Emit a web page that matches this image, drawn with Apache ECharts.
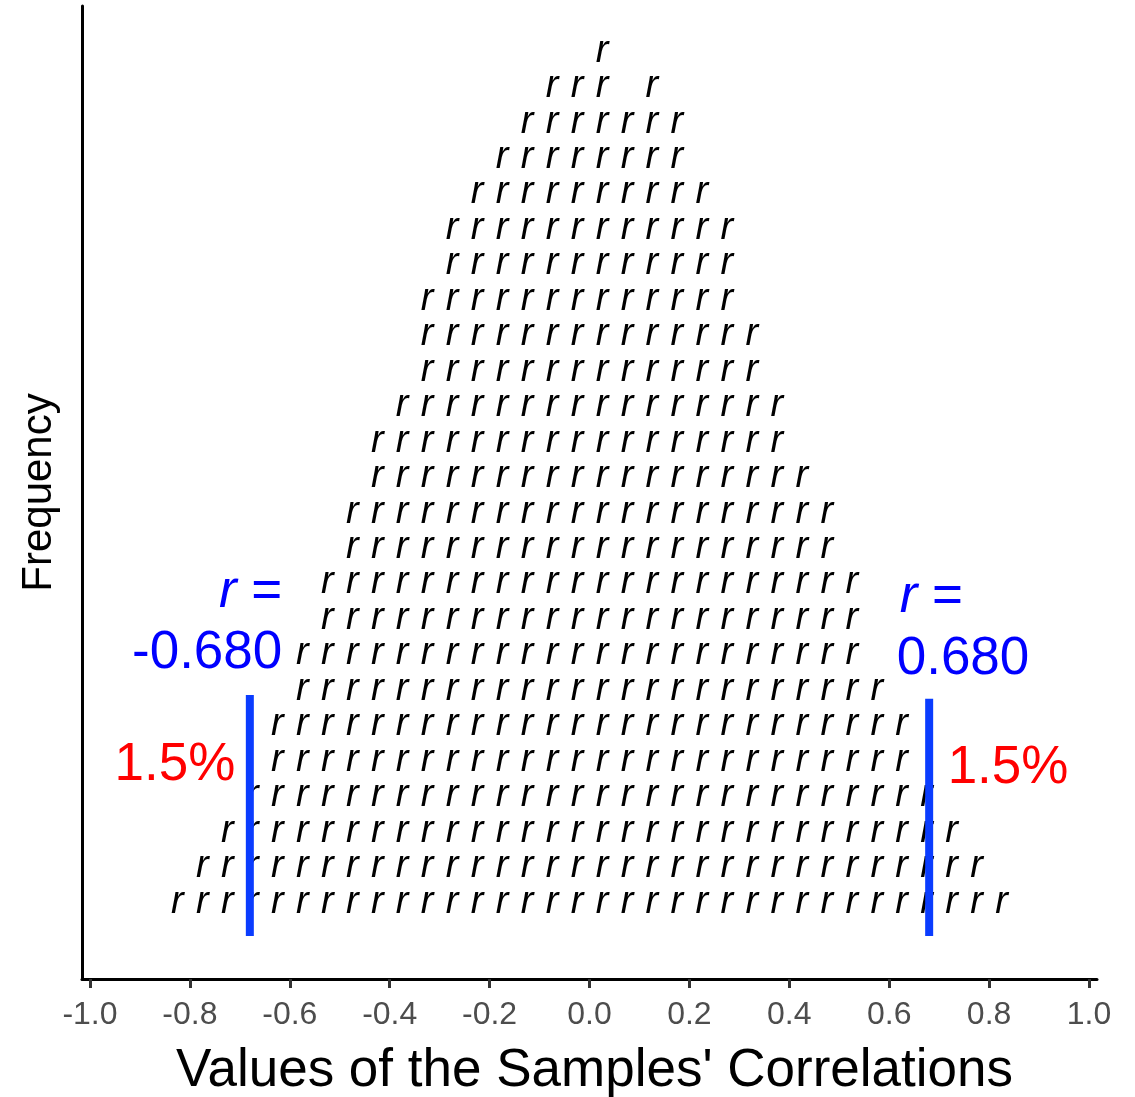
<!DOCTYPE html>
<html>
<head>
<meta charset="utf-8">
<script src="https://cdn.jsdelivr.net/npm/echarts@6/dist/echarts.min.js"></script>
<style>
  body { margin: 0; background: #fff; }
  #chart { width: 1135px; height: 1097px; }
</style>
</head>
<body>
<div id="chart"></div>
<script>
// sample correlations, binned (width 0.05), count of samples per bin
const binCenters = [-0.825, -0.775, -0.725, -0.675, -0.625, -0.575, -0.525, -0.475, -0.425, -0.375,
  -0.325, -0.275, -0.225, -0.175, -0.125, -0.075, -0.025, 0.025, 0.075, 0.125, 0.175, 0.225,
  0.275, 0.325, 0.375, 0.425, 0.475, 0.525, 0.575, 0.625, 0.675, 0.725, 0.775, 0.825];
const binCounts = [1, 2, 3, 4, 6, 8, 10, 12, 14, 15, 18, 20, 21, 22, 23, 24, 24, 25, 23, 24, 23, 21,
  20, 17, 15, 13, 12, 10, 7, 6, 4, 3, 2, 1];
const tickValues = [-1, -0.8, -0.6, -0.4, -0.2, 0, 0.2, 0.4, 0.6, 0.8, 1];
const cutoffs = [-0.68, 0.68];
const cutoffLabels = ['-0.680', '0.680'];
const tailShares = ['1.5%', '1.5%'];

const BLUE = '#0a3cff';
const TEXT_BLUE = '#0000ff';

// one "r" per sample, stacked in its bin
const stacked = [];
binCenters.forEach((c, i) => {
  for (let n = 1; n <= binCounts[i]; n++) stacked.push([c, n]);
});

const chart = echarts.init(document.getElementById('chart'));

const bigText = { fontFamily: 'Liberation Sans', fontSize: 53 };

const notes = [
  // left side
  { value: [-0.615, 9.74], label: { formatter: '{i|r} =', align: 'right', color: TEXT_BLUE, ...bigText,
      rich: { i: { fontStyle: 'italic', color: TEXT_BLUE, ...bigText } } } },
  { value: [-0.615, 8.02], label: { formatter: cutoffLabels[0], align: 'right', color: TEXT_BLUE, ...bigText } },
  { value: [-0.709, 4.86], label: { formatter: tailShares[0], align: 'right', color: '#ff0000', ...bigText } },
  // right side
  { value: [0.621, 9.6], label: { formatter: '{i|r} =', align: 'left', color: TEXT_BLUE, ...bigText,
      rich: { i: { fontStyle: 'italic', color: TEXT_BLUE, ...bigText } } } },
  { value: [0.615, 7.83], label: { formatter: cutoffLabels[1], align: 'left', color: TEXT_BLUE, ...bigText } },
  { value: [0.717, 4.78], label: { formatter: tailShares[1], align: 'left', color: '#ff0000', ...bigText } }
];

const options = {
  animation: false,
  grid: { left: 82, right: 38, top: 6, bottom: 118, outerBoundsMode: 'none', containLabel: false },
  xAxis: {
    type: 'value',
    min: -1.016,
    max: 1.016,
    name: "Values of the Samples' Correlations",
    nameLocation: 'middle',
    nameGap: 66,
    nameTextStyle: { fontFamily: 'Liberation Sans', fontSize: 53, color: '#000', padding: [0, 0, 0, 10] },
    axisLine: { show: true, onZero: false, lineStyle: { color: '#000', width: 3 } },
    axisTick: { show: true, customValues: tickValues, length: 9, lineStyle: { color: '#333', width: 3 } },
    axisLabel: {
      customValues: tickValues,
      margin: 20,
      fontFamily: 'Liberation Sans',
      fontSize: 32,
      color: '#4d4d4d',
      formatter: v => v.toFixed(1)
    },
    splitLine: { show: false }
  },
  yAxis: {
    type: 'value',
    min: -1.171,
    max: 26.27,
    name: 'Frequency',
    nameLocation: 'middle',
    nameRotate: 90,
    nameGap: 22,
    nameTextStyle: { fontFamily: 'Liberation Sans', fontSize: 42, color: '#000' },
    axisLine: { show: true, onZero: false, lineStyle: { color: '#000', width: 3 } },
    axisTick: { show: false },
    axisLabel: { show: false },
    splitLine: { show: false }
  },
  series: [
    {
      name: 'samples',
      type: 'scatter',
      silent: true,
      symbolSize: 0,
      itemStyle: { opacity: 1 },
      data: stacked,
      label: {
        show: true,
        position: 'inside',
        formatter: 'r',
        fontFamily: 'Liberation Sans',
        fontStyle: 'italic',
        fontSize: 38,
        color: '#000',
        opacity: 1
      }
    },
    {
      type: 'line',
      silent: true,
      symbol: 'none',
      z: 5,
      data: [[cutoffs[0], 0.04], [cutoffs[0], 6.84]],
      lineStyle: { color: BLUE, width: 8 }
    },
    {
      type: 'line',
      silent: true,
      symbol: 'none',
      z: 5,
      data: [[cutoffs[1], 0.04], [cutoffs[1], 6.73]],
      lineStyle: { color: BLUE, width: 8 }
    },
    {
      name: 'notes',
      type: 'scatter',
      silent: true,
      symbolSize: 0,
      itemStyle: { opacity: 1 },
      data: notes,
      label: { show: true, position: 'inside', opacity: 1 }
    }
  ]
};

chart.setOption(options);
</script>
</body>
</html>
